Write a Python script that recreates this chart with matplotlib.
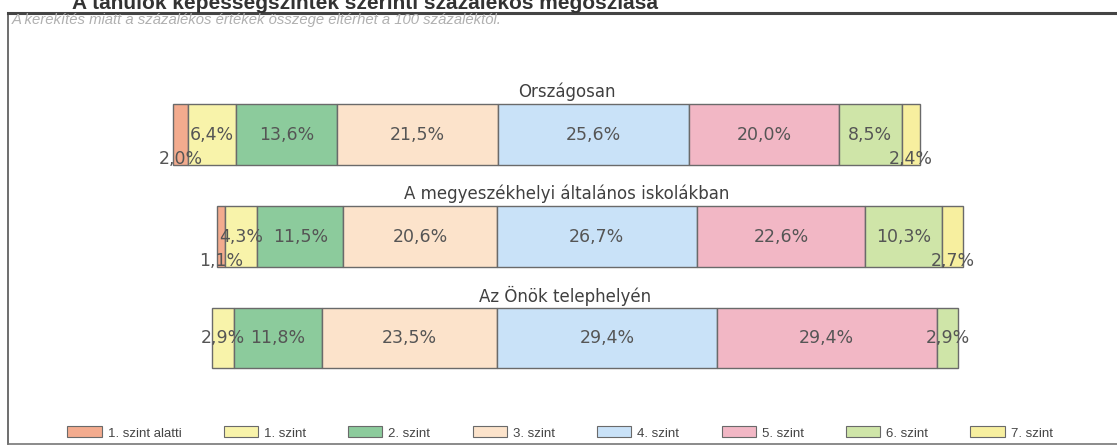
import matplotlib
matplotlib.use("Agg")
import matplotlib.pyplot as plt
from matplotlib.patches import Patch

plt.rcParams['font.family'] = ['Liberation Sans', 'DejaVu Sans']

# data
levels = ['1. szint alatti', '1. szint', '2. szint', '3. szint',
          '4. szint', '5. szint', '6. szint', '7. szint']
groups = ['Országosan', 'A megyeszékhelyi általános iskolákban', 'Az Önök telephelyén']
orszagos = [2.0, 6.4, 13.6, 21.5, 25.6, 20.0, 8.5, 2.4]
megyeszekhely = [1.1, 4.3, 11.5, 20.6, 26.7, 22.6, 10.3, 2.7]
telephely = [0.0, 2.9, 11.8, 23.5, 29.4, 29.4, 2.9, 0.0]
series = [orszagos, megyeszekhely, telephely]

colors = ['#f3ab8e', '#f8f3aa', '#8ccb9c', '#fce3cb',
          '#c9e2f8', '#f2b7c5', '#cfe5a8', '#f7ef9f']

W, H = 1117, 448
fig = plt.figure(figsize=(W / 100, H / 100), dpi=100)

# frame of the scanned box
fig.add_artist(plt.Line2D([8 / W, 8 / W], [1 - 13 / H, 1 - 444 / H], color='#555555', lw=1.2))
fig.add_artist(plt.Line2D([8 / W, 1.0], [1 - 13 / H, 1 - 13 / H], color='#444444', lw=2.2))
fig.add_artist(plt.Line2D([8 / W, 1.0], [1 - 444 / H, 1 - 444 / H], color='#777777', lw=1.2))

# title (cut off at the top of the scan, like the original)
fig.text(72 / W, 1 - 9 / H, 'A tanulók képességszintek szerinti százalékos megoszlása',
         fontsize=15, fontweight='bold', color='#333333', va='baseline', ha='left')
fig.text(12 / W, 1 - 20 / H,
         'A kerekítés miatt a százalékos értékek összege eltérhet a 100 százaléktól.',
         fontsize=10.7, style='italic', color='#b0b0b0', va='center', ha='left')

# bar layout in pixels: left, top, bottom, title centre x
layout = [(173, 104, 165, 567), (217, 206, 267, 567), (212, 308, 368, 565)]
scale = 747  # pixels per 100 %

for vals, name, (left, top, bottom, tx) in zip(series, groups, layout):
    ax = fig.add_axes([left / W, 1 - bottom / H, scale / W, (bottom - top) / H])
    start = 0
    for v, c in zip(vals, colors):
        if v > 0:
            ax.barh(0.5, v, left=start, height=1, color=c, edgecolor='#6a6a6a',
                    linewidth=1, clip_on=False)
            lab = f"{v:.1f}".replace('.', ',') + '%'
            ly = 0.1 if v < 2.8 else 0.5
            ax.text(start + v / 2, ly, lab, ha='center', va='center',
                    fontsize=12.5, family='DejaVu Sans', color='#555555', clip_on=False)
        start += v
    ax.set_xlim(0, 100)
    ax.set_ylim(0, 1)
    ax.axis('off')
    fig.text(tx / W, 1 - (top - 12) / H, name, ha='center', va='center',
             fontsize=12, family='DejaVu Sans', color='#404040')

handles = [Patch(facecolor=c, edgecolor='#6a6a6a', linewidth=0.8) for c in colors]
fig.legend(handles, levels, loc='center', bbox_to_anchor=(560 / W, 1 - 433 / H),
           ncol=8, frameon=False, fontsize=9.5, handlelength=2.6, handleheight=0.9,
           handletextpad=0.45, columnspacing=3.2, labelcolor='#444444')

fig.savefig('out.png', dpi=100, facecolor='white')
